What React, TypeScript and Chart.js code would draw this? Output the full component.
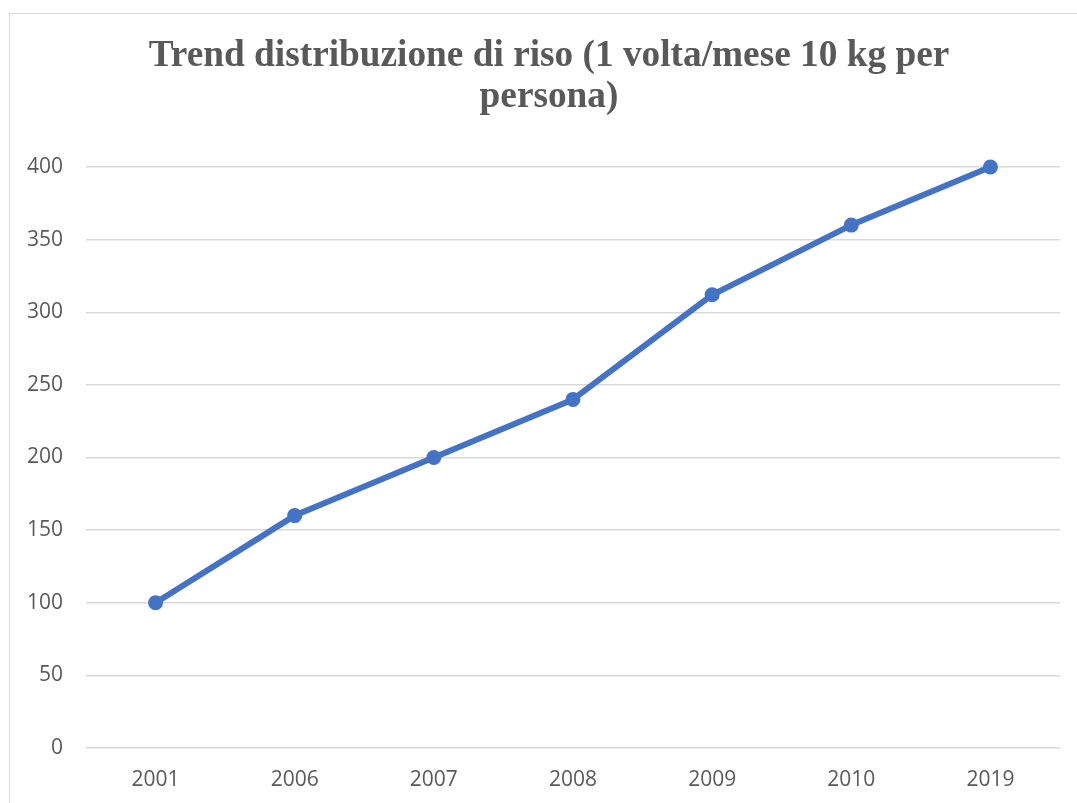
import React, { useEffect, useRef } from "react";
import { Chart, registerables } from "chart.js";

Chart.register(...registerables);

const categories: string[] = ["2001", "2006", "2007", "2008", "2009", "2010", "2019"];
const riceValues: number[] = [100, 160, 200, 240, 312, 360, 400];
const titleLines: string[] = ["Trend distribuzione di riso (1 volta/mese 10 kg per", "persona)"];
const yMin = 0;
const yMax = 400;
const yStep = 50;

const titlePlugin = {
  id: "centeredTitle",
  afterDraw(chart: any) {
    const ctx = chart.ctx;
    ctx.save();
    ctx.fillStyle = "#595959";
    ctx.font = "bold 37.3px 'Liberation Serif', 'Times New Roman', serif";
    ctx.textAlign = "center";
    ctx.textBaseline = "alphabetic";
    const cx = 539;
    const baselines = [52, 93];
    titleLines.forEach((line, i) => ctx.fillText(line, cx, baselines[i]));
    ctx.restore();
  },
};

export default function App() {
  const canvasRef = useRef<HTMLCanvasElement | null>(null);

  useEffect(() => {
    if (!canvasRef.current) return;
    const chart = new Chart(canvasRef.current, {
      type: "line",
      data: {
        labels: categories,
        datasets: [
          {
            label: "Riso",
            data: riceValues,
            borderColor: "#4472C4",
            backgroundColor: "#4472C4",
            borderWidth: 6,
            borderCapStyle: "round",
            borderJoinStyle: "round",
            pointRadius: 7.5,
            pointHoverRadius: 7.5,
            pointBackgroundColor: "#4472C4",
            pointBorderColor: "#4472C4",
            pointBorderWidth: 0,
            tension: 0,
            fill: false,
            clip: false,
          },
        ],
      },
      options: {
        responsive: false,
        animation: false,
        layout: { padding: { left: 0, right: 30, top: 153, bottom: 0 } },
        plugins: {
          legend: { display: false },
          tooltip: { enabled: false },
          title: { display: false },
        },
        scales: {
          x: {
            offset: true,
            grid: { display: false, drawTicks: false },
            border: { display: false },
            ticks: {
              color: "#595959",
              font: { family: "'Open Sans', sans-serif", size: 21 },
              padding: 19,
              maxRotation: 0,
            },
            afterFit: (axis: any) => {
              axis.height = 66;
            },
          },
          y: {
            min: yMin,
            max: yMax,
            grid: { color: "#d9d9d9", lineWidth: 1.5, drawTicks: false },
            border: { display: false },
            ticks: {
              stepSize: yStep,
              color: "#595959",
              font: { family: "'Open Sans', sans-serif", size: 21 },
              padding: 23,
            },
            afterFit: (axis: any) => {
              axis.width = 76;
            },
          },
        },
      },
      plugins: [titlePlugin],
    });
    return () => chart.destroy();
  }, []);

  return (
    <div style={{ position: "fixed", left: 0, top: 0, width: "100vw", height: "100vh", overflow: "hidden", background: "#fff" }}>
      <div
        style={{
          position: "absolute",
          left: 9,
          top: 13,
          width: 1080,
          height: 800,
          border: "1px solid #d9d9d9",
          background: "#fff",
        }}
      >
        <canvas ref={canvasRef} width={1080} height={800} style={{ display: "block" }} />
      </div>
    </div>
  );
}
